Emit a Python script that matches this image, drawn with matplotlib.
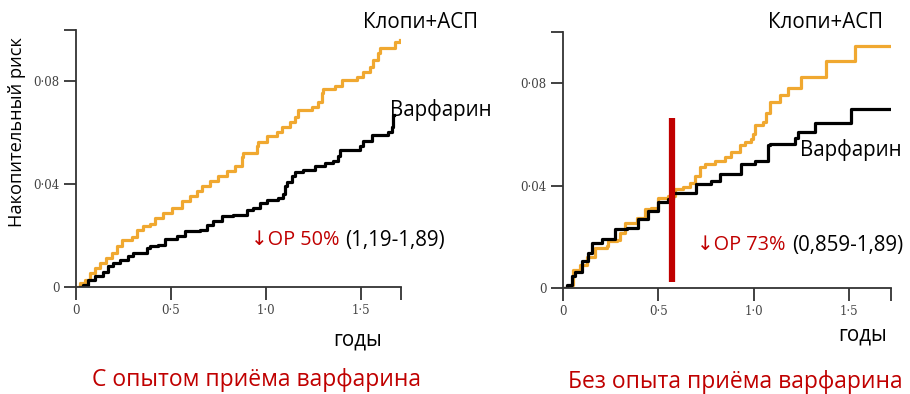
import numpy as np
import matplotlib
matplotlib.use("Agg")
import matplotlib.pyplot as plt

plt.rcParams['font.family'] = ['Open Sans', 'DejaVu Sans']

# Kaplan-Meier style step curves (years, cumulative risk)
# Left panel: with prior warfarin experience
left_clopi_t = [0, 0.02, 0.047, 0.074, 0.10, 0.126, 0.16, 0.188, 0.214, 0.24, 0.293, 0.32, 0.354,
                0.39, 0.416, 0.46, 0.504, 0.556, 0.60, 0.635, 0.661, 0.705, 0.749, 0.793, 0.837,
                0.872, 0.881, 0.951, 0.96, 1.004, 1.056, 1.083, 1.126, 1.153, 1.17, 1.24, 1.275,
                1.293, 1.302, 1.363, 1.398, 1.477, 1.512, 1.547, 1.562, 1.591, 1.60, 1.679, 1.705]
left_clopi_y = [0, 0.0017, 0.0027, 0.0054, 0.0073, 0.0093, 0.0112, 0.0132, 0.0158, 0.0184, 0.0195,
                0.0223, 0.0236, 0.0247, 0.0269, 0.0289, 0.0309, 0.0334, 0.0354, 0.0374, 0.0393,
                0.0413, 0.0432, 0.0452, 0.0472, 0.0504, 0.0521, 0.055, 0.0563, 0.0587, 0.0602,
                0.0622, 0.0642, 0.0661, 0.0687, 0.070, 0.072, 0.0753, 0.0772, 0.0783, 0.0805,
                0.0818, 0.0838, 0.0857, 0.0883, 0.091, 0.0929, 0.0955, 0.0962]

left_warf_t = [0.02, 0.038, 0.065, 0.10, 0.144, 0.17, 0.196, 0.232, 0.275, 0.302, 0.372, 0.39,
               0.433, 0.468, 0.53, 0.574, 0.653, 0.688, 0.723, 0.767, 0.828, 0.898, 0.933, 0.968,
               1.004, 1.065, 1.091, 1.10, 1.109, 1.135, 1.153, 1.196, 1.258, 1.31, 1.354, 1.38,
               1.389, 1.495, 1.512, 1.556, 1.644, 1.661, 1.67, 1.672]
left_warf_y = [0, 0.0008, 0.0027, 0.0043, 0.006, 0.008, 0.0093, 0.0106, 0.0119, 0.0132, 0.0152,
               0.0158, 0.0165, 0.0187, 0.0197, 0.0217, 0.0223, 0.0243, 0.0256, 0.0276, 0.0282,
               0.0299, 0.0309, 0.0325, 0.0338, 0.0347, 0.036, 0.0393, 0.0409, 0.0432, 0.0448,
               0.0456, 0.0472, 0.0481, 0.0491, 0.0511, 0.0534, 0.055, 0.057, 0.059, 0.0605,
               0.0622, 0.0668, 0.0668]

# Right panel: warfarin-naive
right_clopi_t = [0, 0.037, 0.054, 0.089, 0.124, 0.168, 0.229, 0.237, 0.281, 0.298, 0.325, 0.386,
                 0.429, 0.464, 0.499, 0.551, 0.586, 0.63, 0.665, 0.691, 0.717, 0.743, 0.796, 0.848,
                 0.883, 0.927, 0.953, 0.988, 0.996, 1.005, 1.049, 1.066, 1.084, 1.136, 1.18, 1.25,
                 1.38, 1.529, 1.72]
right_clopi_y = [0, 0.0012, 0.0071, 0.0091, 0.0123, 0.0156, 0.0163, 0.0182, 0.0189, 0.0216, 0.0255,
                 0.0275, 0.0307, 0.0314, 0.035, 0.036, 0.0386, 0.0393, 0.0412, 0.0439, 0.0472,
                 0.0485, 0.0498, 0.0511, 0.0531, 0.0557, 0.057, 0.0583, 0.0603, 0.0636, 0.0649,
                 0.0682, 0.0728, 0.0754, 0.078, 0.0826, 0.0888, 0.0944, 0.0944]

right_warf_t = [0.005, 0.019, 0.045, 0.063, 0.098, 0.133, 0.15, 0.202, 0.272, 0.333, 0.394, 0.447,
                0.499, 0.551, 0.577, 0.70, 0.778, 0.822, 0.936, 1.005, 1.075, 1.084, 1.215, 1.232,
                1.319, 1.511, 1.72]
right_warf_y = [0, 0.0012, 0.0045, 0.0064, 0.0104, 0.0137, 0.0176, 0.0192, 0.0229, 0.0235, 0.0268,
                0.0301, 0.0334, 0.0347, 0.0373, 0.0406, 0.0419, 0.0445, 0.0485, 0.0498, 0.0557,
                0.0564, 0.0584, 0.061, 0.0643, 0.0701, 0.0701]

landmark_t = 0.57
landmark_y = [0.0024, 0.0666]

yticks = [0, 0.04, 0.08, 0.1]
ytick_labels = ['0', '0·04', '0·08', '']
xticks = [0, 0.5, 1.0, 1.5]
xtick_labels = ['0', '0·5', '1·0', '1·5']

ORANGE = '#F0A830'
RED = '#C00000'
W, H = 910, 394

fig = plt.figure(figsize=(W / 100, H / 100), dpi=100)


def px_axes(x0, y0, x1, y1):
    # axes box given in pixel coords (top-left origin)
    return fig.add_axes([x0 / W, 1 - y1 / H, (x1 - x0) / W, (y1 - y0) / H])


def style_axes(ax, xmax):
    ax.set_xlim(0, xmax)
    ax.set_ylim(0, 0.1)
    for s in ['top', 'right']:
        ax.spines[s].set_visible(False)
    for s in ['left', 'bottom']:
        ax.spines[s].set_color('#333333')
        ax.spines[s].set_linewidth(1.3)
    ax.set_yticks(yticks)
    ax.set_yticklabels(ytick_labels)
    ax.set_xticks(xticks + [xmax])
    ax.set_xticklabels(xtick_labels + [''])
    ax.tick_params(length=9, width=1.3, color='#333333', labelsize=8.5,
                   labelcolor='#444444', pad=3)
    for lab in ax.get_xticklabels() + ax.get_yticklabels():
        lab.set_family('DejaVu Serif')
    ax.patch.set_visible(False)


def txt(x, y, s, **kw):
    kw.setdefault('fontsize', 14.8)
    kw.setdefault('va', 'center')
    return fig.text(x / W, 1 - y / H, s, **kw)


# left panel
ax1 = px_axes(76, 30, 401, 287)
ax1.step(left_clopi_t, left_clopi_y, where='post', color=ORANGE, lw=2.3)
ax1.step(left_warf_t, left_warf_y, where='post', color='black', lw=2.3)
style_axes(ax1, 1.71)

# right panel
ax2 = px_axes(563, 32, 891, 288)
ax2.step(right_clopi_t, right_clopi_y, where='post', color=ORANGE, lw=2.3)
ax2.step(right_warf_t, right_warf_y, where='post', color='black', lw=2.3)
ax2.plot([landmark_t, landmark_t], landmark_y, color=RED, lw=4.5, solid_capstyle='butt')
style_axes(ax2, 1.72)

# labels
txt(363, 22, 'Клопи+АСП', ha='left')
txt(390, 110, 'Варфарин', ha='left')
txt(251, 240, '↓ОР 50%', ha='left', color=RED, fontsize=14.3)
txt(345, 240, '(1,19-1,89)', ha='left')
txt(333, 340, 'годы', ha='left')
ylab = txt(17, 132, 'Накопительный риск', ha='center', rotation=90, fontsize=12)
txt(257, 380, 'С опытом приёма варфарина', ha='center', color=RED, fontsize=16.5)

txt(768, 22, 'Клопи+АСП', ha='left')
txt(800, 150, 'Варфарин', ha='left')
txt(697, 245, '↓ОР 73%', ha='left', color=RED, fontsize=14.3)
txt(792, 245, '(0,859-1,89)', ha='left')
txt(838, 335, 'годы', ha='left')
txt(735, 382, 'Без опыта приёма варфарина', ha='center', color=RED, fontsize=16.5)

# scale the rotated y label so it spans the same height as in the picture (~189 px)
renderer = fig.canvas.get_renderer()
span = ylab.get_window_extent(renderer).height
ylab.set_fontsize(12 * 189 / span)

fig.savefig('out.png', dpi=100)
